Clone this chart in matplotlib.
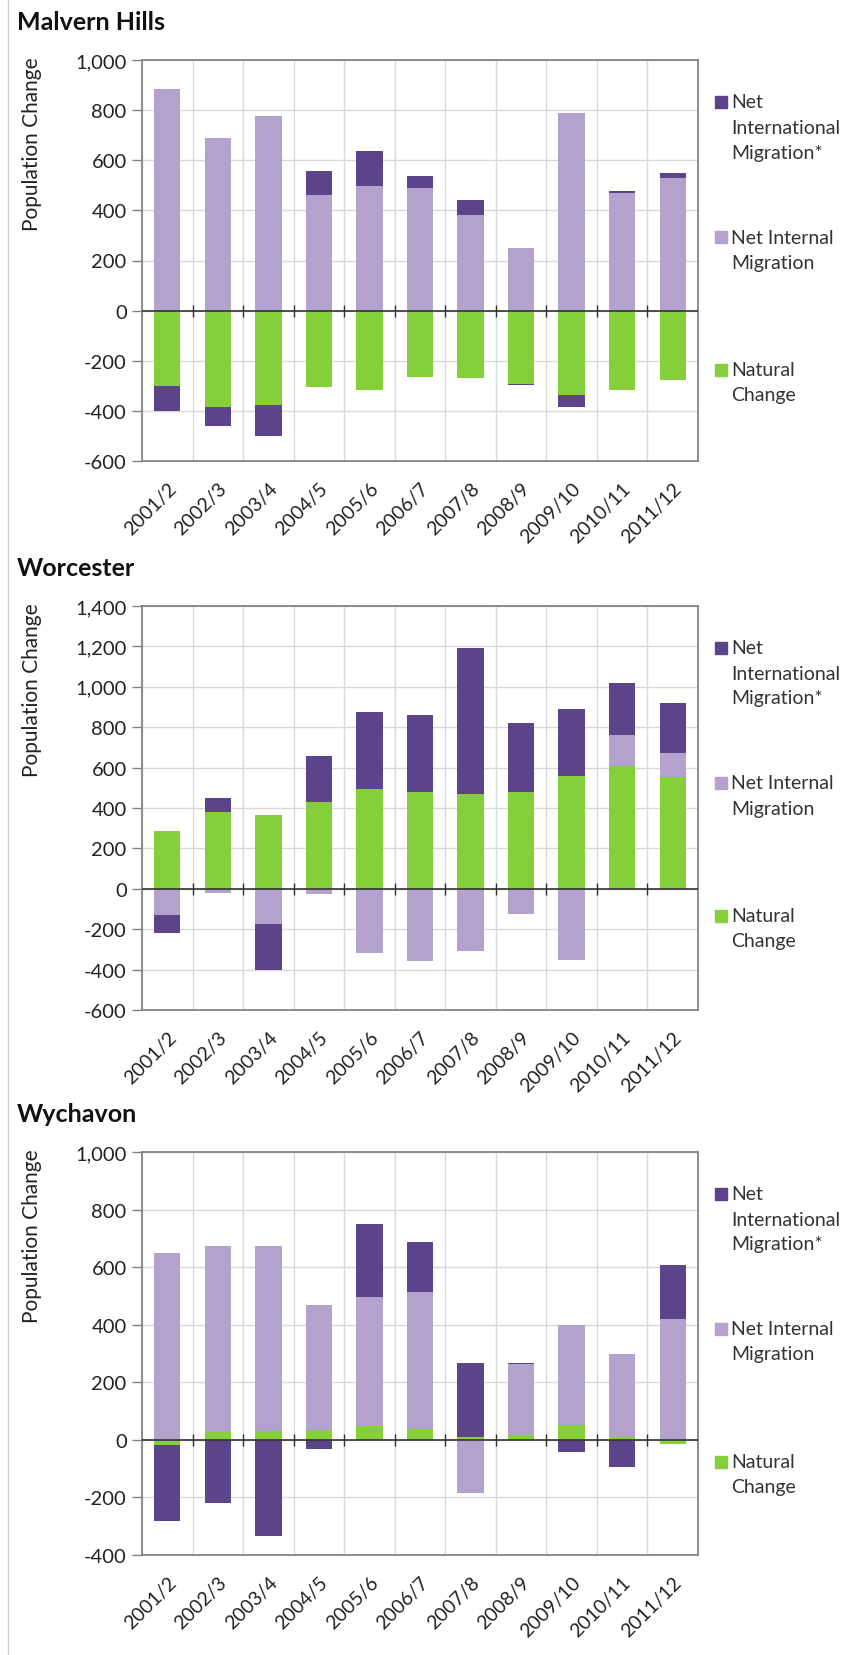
import matplotlib
matplotlib.use("Agg")
import matplotlib.pyplot as plt
from matplotlib.patches import Rectangle
from matplotlib.lines import Line2D
import numpy as np

plt.rcParams['font.family'] = ['Lato', 'DejaVu Sans']

#Data - population change components by year
years = ["2001/2", "2002/3", "2003/4", "2004/5", "2005/6", "2006/7",
         "2007/8", "2008/9", "2009/10", "2010/11", "2011/12"]

malvern_natural = [-300, -383, -377, -306, -316, -266, -269, -293, -335, -318, -275]
malvern_internal = [886, 687, 777, 462, 499, 491, 380, 248, 787, 470, 530]
malvern_intl = [-100, -79, -123, 96, 137, 45, 61, -5, -50, 7, 21]

worcester_natural = [287, 379, 365, 430, 492, 480, 469, 480, 558, 607, 552]
worcester_internal = [-129, -23, -173, -27, -320, -356, -306, -124, -352, 152, 122]
worcester_intl = [-89, 69, -231, 227, 381, 380, 724, 343, 330, 260, 248]

wychavon_natural = [-17, 26, 32, 34, 49, 37, 10, 18, 53, 11, -16]
wychavon_internal = [649, 648, 642, 435, 449, 475, -183, 244, 347, 288, 421]
wychavon_intl = [-265, -220, -335, -33, 253, 176, 256, 5, -42, -95, 188]

panels = [
    ("Malvern Hills", malvern_natural, malvern_internal, malvern_intl, (-600, 1000)),
    ("Worcester", worcester_natural, worcester_internal, worcester_intl, (-600, 1400)),
    ("Wychavon", wychavon_natural, wychavon_internal, wychavon_intl, (-400, 1000)),
]

series_names = ["Natural\nChange", "Net Internal\nMigration", "Net\nInternational\nMigration*"]
colors = ["#84CF3A", "#B3A2CD", "#5D4389"]

W, H = 842, 1656
# axes top / bottom in pixels
axes_px = [(61, 462), (607, 1011), (1153, 1556)]
left_px, right_px = 142, 698

fig = plt.figure(figsize=(W / 100, H / 100), dpi=100)

def fx(px):
    return px / W

def fy(py):
    return 1 - py / H

# thin page border on the left
fig.add_artist(Line2D([fx(8), fx(8)], [0, 1], color="#D0D0D0", lw=1))

x = np.arange(len(years))
bounds = np.arange(len(years) + 1) - 0.5

for (title, nat, intr, intl, ylim), (top, bot) in zip(panels, axes_px):
    ax = fig.add_axes([fx(left_px), fy(bot), fx(right_px - left_px), (bot - top) / H])

    pos_bottom = np.zeros(len(years))
    neg_bottom = np.zeros(len(years))
    for vals, c in zip([nat, intr, intl], colors):
        vals = np.array(vals, dtype=float)
        base = np.where(vals >= 0, pos_bottom, neg_bottom)
        ax.bar(x, vals, bottom=base, width=0.52, color=c, zorder=3)
        pos_bottom += np.where(vals >= 0, vals, 0)
        neg_bottom += np.where(vals < 0, vals, 0)

    ax.set_xlim(-0.5, len(years) - 0.5)
    ax.set_ylim(*ylim)
    ax.set_yticks(np.arange(ylim[0], ylim[1] + 1, 200))
    ax.set_yticklabels([f"{v:,.0f}" for v in ax.get_yticks()])
    ax.set_xticks(x)
    ax.set_xticklabels(years, rotation=45, ha="right", va="top", rotation_mode="anchor")
    ax.set_xticks(bounds, minor=True)
    ax.tick_params(axis="x", which="both", length=0, pad=13, labelsize=14, colors="#222222")
    ax.tick_params(axis="y", length=7, width=1, color="#808080", pad=4,
                   labelsize=14.5, labelcolor="#222222")
    ax.grid(axis="y", which="major", color="#D9D9D9", lw=1, zorder=0)
    ax.grid(axis="x", which="minor", color="#D9D9D9", lw=1, zorder=0)
    for s in ax.spines.values():
        s.set_color("#858585")
        s.set_linewidth(1.3)

    # category axis at zero with tick marks between categories
    ax.axhline(0, color="#333333", lw=1.2, zorder=4)
    ax.plot(bounds[1:-1], np.zeros(len(bounds) - 2), linestyle="none", marker="|",
            ms=9, mew=1, color="#333333", zorder=4)

    fig.text(fx(17), fy(top - 38), title, fontsize=18, fontweight="bold",
             ha="left", va="center", color="#111111")
    fig.text(fx(32), fy(top - 4), "Population Change", rotation=90, fontsize=15,
             ha="center", va="top", color="#222222")

    # legend drawn as in the source: one block per series, spread down the side
    for k, (name, c) in enumerate(zip(series_names[::-1], colors[::-1])):
        y0 = top + [42, 177, 310][k]
        fig.add_artist(Rectangle((fx(715), fy(y0 + 6)), fx(12), 12 / H, color=c,
                                 transform=fig.transFigure))
        for j, line in enumerate(name.split("\n")):
            fig.text(fx(731), fy(y0 + 25 * j), line, fontsize=14, ha="left",
                     va="center", color="#333333")

fig.savefig("out.png", dpi=100)
